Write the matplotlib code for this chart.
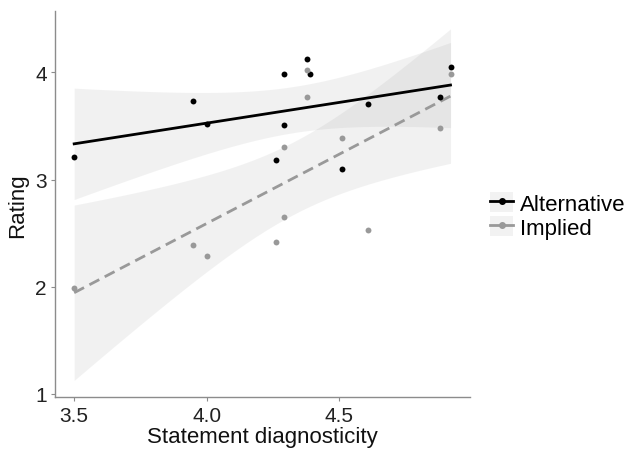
import numpy as np
import matplotlib
matplotlib.use('Agg')
import matplotlib.pyplot as plt
from matplotlib.lines import Line2D
from matplotlib.patches import Patch
from matplotlib.legend_handler import HandlerTuple

plt.rcParams['font.family'] = ['Liberation Sans', 'DejaVu Sans']

# ==== data ====
# statement diagnosticity (x) and mean rating (y) per item
alt_x = [3.50, 3.95, 4.00, 4.26, 4.29, 4.29, 4.38, 4.39, 4.51, 4.61, 4.88, 4.92]
alt_y = [3.21, 3.73, 3.52, 3.18, 3.98, 3.51, 4.12, 3.98, 3.10, 3.70, 3.77, 4.05]
imp_x = [3.50, 3.95, 4.00, 4.26, 4.29, 4.29, 4.38, 4.38, 4.51, 4.61, 4.88, 4.92]
imp_y = [1.99, 2.39, 2.29, 2.42, 3.30, 2.65, 4.02, 3.77, 3.39, 2.53, 3.48, 3.98]

series = ['Alternative', 'Implied']
colours = ['black', '#999999']
styles = ['-', (0, (4, 2.2))]
t_crit = 2.228  # t(0.975, df=10)


def lm_fit(x, y):
    # linear fit plus 95% confidence band, like geom_smooth(method='lm')
    x = np.asarray(x)
    y = np.asarray(y)
    b, a = np.polyfit(x, y, 1)
    xs = np.linspace(x.min(), x.max(), 100)
    fit = a + b * xs
    n = len(x)
    s = np.sqrt(np.sum((y - (a + b * x))**2) / (n - 2))
    se = s * np.sqrt(1 / n + (xs - x.mean())**2 / np.sum((x - x.mean())**2))
    return xs, fit, fit - t_crit * se, fit + t_crit * se


fig = plt.figure(figsize=(6.26, 4.52), dpi=100)
ax = fig.add_axes([0.088, 0.119, 0.663, 0.854])

data = [(alt_x, alt_y), (imp_x, imp_y)]
for (x, y), col, ls in zip(data, colours, styles):
    xs, fit, lo, hi = lm_fit(x, y)
    ax.fill_between(xs, lo, hi, color='#999999', alpha=0.13, linewidth=0, zorder=1)
for (x, y), col, ls in zip(data, colours, styles):
    xs, fit, lo, hi = lm_fit(x, y)
    ax.scatter(x, y, s=18, color=col, zorder=3, linewidths=0)
    ax.plot(xs, fit, color=col, linestyle=ls, linewidth=2.0, zorder=2)

ax.set_xlim(3.428, 4.994)
ax.set_ylim(0.97, 4.57)
ax.set_xticks([3.5, 4.0, 4.5])
ax.set_xticklabels(['3.5', '4.0', '4.5'])
ax.set_yticks([1, 2, 3, 4])

for side in ['top', 'right']:
    ax.spines[side].set_visible(False)
for side in ['left', 'bottom']:
    ax.spines[side].set_color('#8c8c8c')
    ax.spines[side].set_linewidth(1.0)
ax.tick_params(colors='#8c8c8c', labelcolor='#222222', labelsize=15, length=3, pad=3)

ax.set_xlabel('Statement diagnosticity', fontsize=16, color='#111111', labelpad=1)
ax.set_ylabel('Rating', fontsize=16, color='#111111', labelpad=5)

handles = []
for col, ls in zip(colours, styles):
    bg = Patch(facecolor='#f2f2f2', edgecolor='none')
    ln = Line2D([], [], color=col, linewidth=2.0, marker='o', markersize=4)
    handles.append((bg, ln))
fig.legend(handles, series, handler_map={tuple: HandlerTuple(ndivide=1, pad=0)},
           loc='center left', bbox_to_anchor=(0.783, 0.521), frameon=False,
           fontsize=16, handlelength=1.05, handleheight=1.0, handletextpad=0.3,
           labelspacing=0.05, borderaxespad=0, borderpad=0)

fig.savefig('out.png', dpi=100)
